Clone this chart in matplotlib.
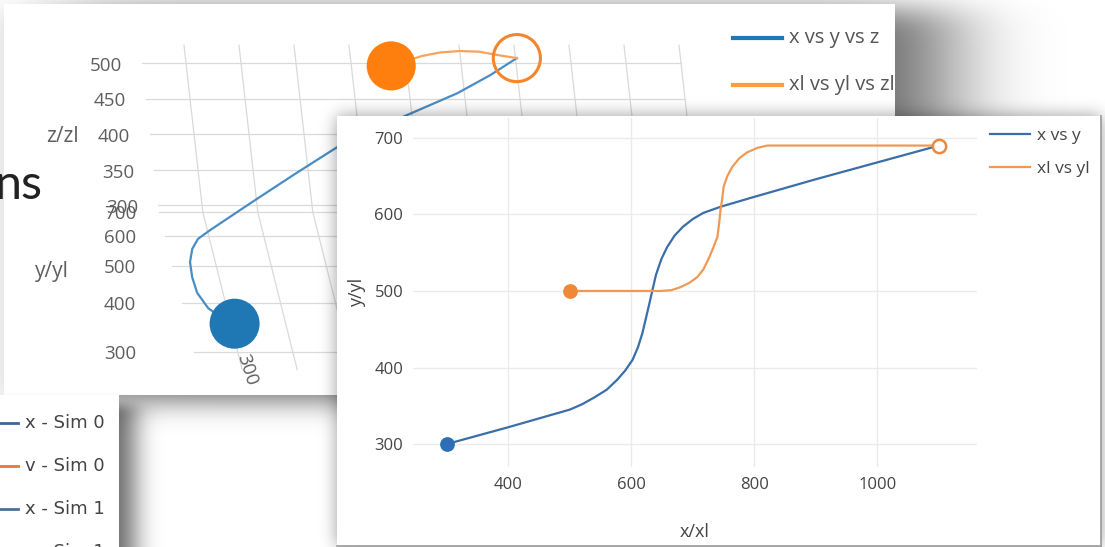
import math
import numpy as np
import matplotlib.pyplot as plt
from matplotlib.patches import Rectangle

# front chart: x vs y and xl vs yl
blue_x = [300, 400, 500, 520, 540, 560, 577, 590, 602, 611, 618, 623, 628, 634, 640, 649,
          658, 670, 684, 700, 717, 745, 800, 900, 1000, 1100]
blue_y = [300, 322, 345, 352, 361, 371, 384, 396, 410, 427, 445, 462, 479, 500, 521, 542,
          557, 572, 584, 594, 602, 610, 623, 646, 668, 690]
orange_x = [500, 600, 647, 665, 680, 695, 707, 717, 725, 733, 740, 743, 745, 748, 750, 756,
            764, 775, 788, 805, 821, 840, 900, 1000, 1100]
orange_y = [500, 500, 500, 501, 505, 511, 518, 528, 541, 556, 571, 590, 606, 622, 636, 650,
            662, 673, 681, 687, 690, 690, 690, 690, 690]
x_ticks = [400, 600, 800, 1000]
y_ticks = [300, 400, 500, 600, 700]

# 3d scene behind: x vs y vs z and xl vs yl vs zl
traj_x = [300, 280, 259, 246, 244, 247, 257, 272, 298, 380, 470, 554, 622, 689, 786, 850, 902]
traj_y = [300, 310, 329, 360, 395, 432, 467, 496, 523, 570, 610, 640, 658, 670, 682, 687, 690]
traj_z = [330, 330, 330, 330, 330, 330, 330, 330, 330, 348, 374, 401, 418, 436, 463, 487, 510]
trajl_x = [672, 700, 730, 764, 800, 835, 870, 902]
trajl_y = [690, 690, 690, 690, 690, 690, 690, 690]
trajl_z = [499, 506, 513, 518, 520, 519, 514, 510]
x_grid_3d = [300, 400, 500, 600, 700, 800, 900, 1000, 1100, 1200]
y_ticks_3d = [300, 400, 500, 600, 700]
z_ticks_3d = [300, 350, 400, 450, 500]

sim_labels = ['x - Sim 0', 'v - Sim 0', 'x - Sim 1', 'v - Sim 1']
sim_colors = ['#3d6797', '#e8763e', '#4b6f9c', '#f4c46c']

W, H = 1105, 547
plt.rcParams['font.family'] = ['Open Sans', 'DejaVu Sans']

fig = plt.figure(figsize=(W / 100, H / 100), dpi=100)
bg = fig.add_axes([0, 0, 1, 1])
bg.set_xlim(0, W)
bg.set_ylim(H, 0)
bg.axis('off')

erf = np.vectorize(math.erf)
px = np.arange(W) + 0.5
py = np.arange(H) + 0.5


def shadow(x0, y0, x1, y1, sx, sy, dx, dy, strength, z):
    fx = 0.5 * (erf((px - x0 - dx) / sx) - erf((px - x1 - dx) / sx))
    fy = 0.5 * (erf((py - y0 - dy) / sy) - erf((py - y1 - dy) / sy))
    img = np.zeros((H, W, 4))
    img[..., 3] = strength * np.outer(fy, fx)
    bg.imshow(img, extent=(0, W, H, 0), zorder=z, interpolation='bilinear', aspect='auto')


def panel(x0, y0, x1, y1, z):
    bg.add_patch(Rectangle((x0, y0), x1 - x0, y1 - y0, fc='white', ec='none', zorder=z))


def project(x, y, z):
    # simple perspective-ish camera for the 3d scene, returns pixel coords
    u = (np.asarray(x, float) - 200) / 1000
    v = (np.asarray(y, float) - 300) / 400
    g = 1.6 * v / (1 + 0.6 * v)
    w = (np.asarray(z, float) - 300) / 200
    return 182 + 550 * u - 35 * g - 16 * w, 345 - 140 * g - 142 * w


# back panel with the 3d scene
shadow(4, 4, 895, 395, 70, 20, 50, 5, 0.6, 0.5)
panel(4, 4, 895, 395, 1)

grid_kw = dict(color='#dadada', lw=0.9, zorder=2)
for z in z_ticks_3d:
    bg.plot(*project([220, 1200], [700, 700], [z, z]), **grid_kw)
for x in x_grid_3d:
    bg.plot(*project([x, x], [700, 700], [290, 525]), **grid_kw)
for y in y_ticks_3d:
    bg.plot(*project([220, 1200], [y, y], [290, 290]), **grid_kw)
for x in x_grid_3d:
    bg.plot(*project([x, x], [270, 700], [290, 290]), **grid_kw)

for z in z_ticks_3d:
    sx, sy = project(220, 700, z)
    bg.text(sx - 20, sy + 3, str(z), ha='right', va='center', fontsize=13.5, color='#5e5e5e', zorder=4)
for y in y_ticks_3d:
    sx, sy = project(220, y, 290)
    bg.text(136, sy + 2, str(y), ha='right', va='center', fontsize=13.5, color='#5e5e5e', zorder=4)
sx, sy = project(x_grid_3d[0], 270, 290)
bg.text(sx + 5, sy, str(x_grid_3d[0]), ha='center', va='center', fontsize=13.5, color='#5e5e5e',
        rotation=-72, zorder=4)
bg.text(62, 136, 'z/zl', ha='center', va='center', fontsize=15, color='#5e5e5e', zorder=4)
bg.text(52, 272, 'y/yl', ha='center', va='center', fontsize=15, color='#5e5e5e', zorder=4)

bg.plot(*project(traj_x, traj_y, traj_z), color='#4a8dc4', lw=1.6, zorder=3)
bg.plot(*project(trajl_x, trajl_y, trajl_z), color='#f7a35c', lw=1.6, zorder=3)
bx0, by0 = project(traj_x[0], traj_y[0], traj_z[0])
bg.scatter([bx0], [by0], s=1296, color='#1f77b4', edgecolors='none', zorder=4)
ox0, oy0 = project(trajl_x[0], trajl_y[0], trajl_z[0])
bg.scatter([ox0], [oy0], s=1250, color='#ff7f0e', edgecolors='none', zorder=4)
ox1, oy1 = project(trajl_x[-1], trajl_y[-1], trajl_z[-1])
bg.scatter([ox1], [oy1], s=1150, facecolors='none', edgecolors='#f5842a', linewidths=2.2, zorder=4)

for yy, col, lab in [(38, '#1f77b4', 'x vs y vs z'), (85, '#ff9a45', 'xl vs yl vs zl')]:
    bg.plot([733, 782], [yy, yy], color=col, lw=3, zorder=4)
    bg.text(789, yy, lab, ha='left', va='center', fontsize=14.5, color='#555555', zorder=4)

bg.text(43, 199, 'ns', ha='right', va='baseline', fontsize=35, family='Lato',
        color='#222222', zorder=5)

# legend fragment of the simulations chart
shadow(-30, 395, 119, 580, 18, 8, 15, 10, 0.6, 5.5)
panel(-30, 395, 119, 580, 6)
for i, (lab, col) in enumerate(zip(sim_labels, sim_colors)):
    yy = 423 + 43 * i
    bg.plot([-5, 18], [yy, yy], color=col, lw=2, zorder=7)
    bg.text(25, yy, lab, ha='left', va='center', fontsize=13, family='DejaVu Sans',
            color='#444444', zorder=7)

# front panel
shadow(337, 116, 1101, 546, 12, 12, 0, 0, 0.4, 7.5)
panel(337, 116, 1101, 546, 8)
bg.plot([1101, 1101], [116, 546], color='#9a9a9a', lw=1.2, zorder=9)
bg.plot([337, 1101], [546, 546], color='#9a9a9a', lw=1.2, zorder=9)

ax = fig.add_axes([413 / W, (H - 467) / H, 564 / W, 349 / H])
ax.set_zorder(2)
ax.patch.set_alpha(0)
ax.plot(blue_x, blue_y, color='#3a6ea8', lw=1.6, label='x vs y')
ax.plot(orange_x, orange_y, color='#ee9a56', lw=1.6, label='xl vs yl')
ax.plot(blue_x[0], blue_y[0], 'o', color='#2c6fb5', ms=9.6)
ax.plot(orange_x[0], orange_y[0], 'o', color='#f0883a', ms=9.6)
ax.plot(orange_x[-1], orange_y[-1], 'o', mfc='white', mec='#e88a40', mew=1.8, ms=9.6)
ax.set_xlim(245, 1162)
ax.set_ylim(270, 726)
ax.set_xticks(x_ticks)
ax.set_yticks(y_ticks)
ax.grid(color='#ebebeb', lw=1)
ax.set_axisbelow(True)
for s in ax.spines.values():
    s.set_visible(False)
ax.tick_params(length=0, labelsize=12, labelcolor='#444444', pad=7)
ax.set_xlabel('x/xl', fontsize=13, color='#444444', labelpad=22)
ax.set_ylabel('y/yl', fontsize=13, color='#444444', labelpad=6)
ax.legend(loc='upper left', bbox_to_anchor=(990 / W, 1 - 128 / H), bbox_transform=fig.transFigure,
          frameon=False, fontsize=12.5, handlelength=2.3, handletextpad=0.4, labelspacing=0.95,
          borderaxespad=0, borderpad=0, labelcolor='#444444')

fig.savefig('out.png', dpi=100)
